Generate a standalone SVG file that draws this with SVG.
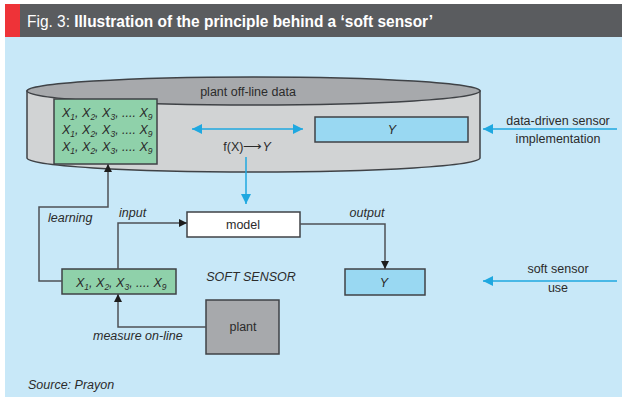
<svg xmlns="http://www.w3.org/2000/svg" width="627" height="398" viewBox="0 0 627 398">
  <defs>
    <style>
      .t { font-family: "Liberation Sans", Arial, sans-serif; font-size: 12.5px; fill: #2b2b2b; }
      .i { font-style: italic; }
      .c { text-anchor: middle; }
      .ln { fill: none; stroke: #4d5055; stroke-width: 1.5; }
      .bl { fill: none; stroke: #1fa8e0; stroke-width: 1.5; }
      .box { stroke: #3f4246; stroke-width: 1.5; }
      .sub { font-size: 8.5px; }
    </style>
    <marker id="ah" viewBox="0 0 10 10" refX="10" refY="5" markerWidth="8" markerHeight="8" markerUnits="userSpaceOnUse" orient="auto-start-reverse">
      <path d="M0,0 L10,5 L0,10 Z" fill="#1d1d1d"/>
    </marker>
    <marker id="bh" viewBox="0 0 10 10" refX="10" refY="5" markerWidth="10" markerHeight="10" markerUnits="userSpaceOnUse" orient="auto-start-reverse">
      <path d="M0,0 L10,5 L0,10 Z" fill="#1fa8e0"/>
    </marker>
  </defs>

  <!-- panel and title bar -->
  <rect x="5" y="37" width="617" height="360" fill="#c8e8f8"/>
  <rect x="5" y="4" width="617" height="33" fill="#5a5c5f"/>
  <rect x="5" y="4" width="15" height="33" fill="#ee3338"/>
  <text x="27" y="27" font-family="Liberation Sans, Arial, sans-serif" font-size="16" fill="#ffffff" textLength="406" lengthAdjust="spacingAndGlyphs"><tspan font-weight="normal">Fig. 3: </tspan><tspan font-weight="bold">Illustration of the principle behind a ‘soft sensor’</tspan></text>

  <!-- off-line data store (cylinder) -->
  <g id="datastore">
    <path d="M27,91 L27,158 A226.5,14 0 0 0 480,158 L480,91 Z" fill="#d1d3d4" class="box"/>
    <ellipse cx="253.5" cy="91" rx="226.5" ry="14" fill="#a7a9ac" class="box"/>
    <text class="t c" x="248" y="96">plant off-line data</text>
  </g>

  <g id="history">
    <rect x="54" y="99" width="103" height="65" fill="#8fd1aa" class="box"/>
    <text class="t i" x="62" y="117">X<tspan class="sub" dy="3">1</tspan><tspan dy="-3">, X</tspan><tspan class="sub" dy="3">2</tspan><tspan dy="-3">, X</tspan><tspan class="sub" dy="3">3</tspan><tspan dy="-3">, .... X</tspan><tspan class="sub" dy="3">9</tspan></text>
    <text class="t i" x="62" y="134">X<tspan class="sub" dy="3">1</tspan><tspan dy="-3">, X</tspan><tspan class="sub" dy="3">2</tspan><tspan dy="-3">, X</tspan><tspan class="sub" dy="3">3</tspan><tspan dy="-3">, .... X</tspan><tspan class="sub" dy="3">9</tspan></text>
    <text class="t i" x="62" y="151">X<tspan class="sub" dy="3">1</tspan><tspan dy="-3">, X</tspan><tspan class="sub" dy="3">2</tspan><tspan dy="-3">, X</tspan><tspan class="sub" dy="3">3</tspan><tspan dy="-3">, .... X</tspan><tspan class="sub" dy="3">9</tspan></text>
  </g>

  <g id="y-offline">
    <rect x="315" y="117" width="153" height="25" fill="#99d8f2" class="box"/>
    <text class="t i c" x="392" y="134">Y</text>
  </g>

  <g id="model">
    <rect x="187" y="212" width="113" height="25" fill="#ffffff" class="box"/>
    <text class="t c" x="243" y="229">model</text>
  </g>

  <g id="online">
    <rect x="62" y="269" width="114" height="25" fill="#8fd1aa" class="box"/>
    <text class="t i" x="76" y="287">X<tspan class="sub" dy="3">1</tspan><tspan dy="-3">, X</tspan><tspan class="sub" dy="3">2</tspan><tspan dy="-3">, X</tspan><tspan class="sub" dy="3">3</tspan><tspan dy="-3">, .... X</tspan><tspan class="sub" dy="3">9</tspan></text>
  </g>

  <g id="y-online">
    <rect x="345" y="269" width="80" height="26" fill="#99d8f2" class="box"/>
    <text class="t i c" x="384" y="287">Y</text>
  </g>

  <g id="plant">
    <rect x="206" y="300" width="73" height="54" fill="#a7a9ac" class="box"/>
    <text class="t c" x="243" y="331">plant</text>
  </g>

  <!-- connectors -->
  <g id="connectors">
    <path class="ln" d="M62,281 L39,281 L39,207 L108,207 L108,164" marker-end="url(#ah)"/>
    <path class="ln" d="M118,269 L118,223 L187,223" marker-end="url(#ah)"/>
    <path class="ln" d="M300,224 L385,224 L385,269" marker-end="url(#ah)"/>
    <path class="ln" d="M206,327 L118,327 L118,294" marker-end="url(#ah)"/>
    <path class="bl" d="M192,129 L303,129" marker-start="url(#bh)" marker-end="url(#bh)"/>
    <path class="bl" d="M246,157 L246,204" marker-end="url(#bh)"/>
    <path class="bl" d="M617,129 L483,129" marker-end="url(#bh)"/>
    <path class="bl" d="M617,281 L483,281" marker-end="url(#bh)"/>
  </g>

  <!-- labels -->
  <text class="t c" x="247" y="151">f(X)⟶<tspan class="i">Y</tspan></text>
  <text class="t i" x="48" y="222">learning</text>
  <text class="t i" x="119" y="217">input</text>
  <text class="t i c" x="367" y="217">output</text>
  <text class="t i c" x="251" y="281">SOFT SENSOR</text>
  <text class="t i" x="93" y="340">measure on-line</text>
  <text class="t c" x="558" y="125">data-driven sensor</text>
  <text class="t c" x="558" y="143">implementation</text>
  <text class="t c" x="558" y="273">soft sensor</text>
  <text class="t c" x="558" y="292">use</text>
  <text class="t i" x="28" y="389" font-size="11.5">Source: Prayon</text>
</svg>
